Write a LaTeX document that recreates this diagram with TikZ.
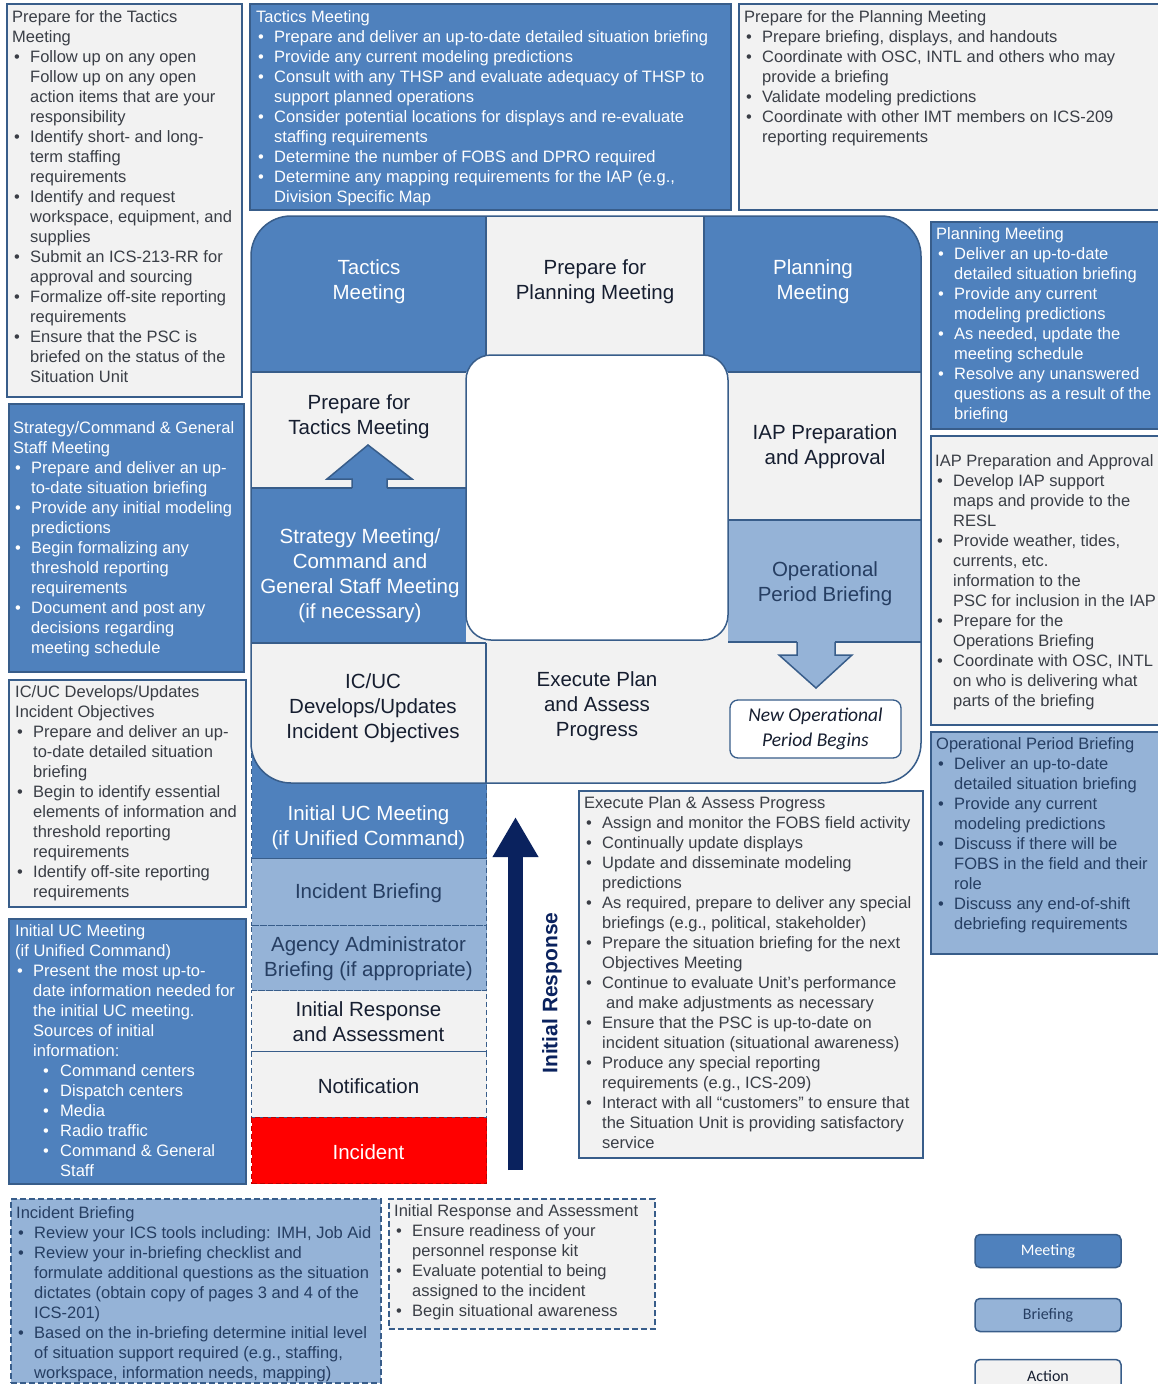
\documentclass[tikz,border=0pt]{standalone}
\usepackage{fontspec}
\setmainfont{Liberation Sans}
\newfontfamily\calibfont{Carlito}
\usetikzlibrary{arrows.meta}

\definecolor{meetblue}{RGB}{79,129,189}
\definecolor{briefblue}{RGB}{149,179,215}
\definecolor{actgray}{RGB}{242,242,242}
\definecolor{edgeblue}{RGB}{56,93,138}
\definecolor{navyarrow}{RGB}{10,34,94}
\definecolor{actink}{RGB}{58,62,70}
\definecolor{briefink}{RGB}{38,62,98}
\definecolor{cellink}{RGB}{22,30,48}
\definecolor{incred}{RGB}{255,0,0}
\definecolor{incedge}{RGB}{190,0,0}

\newcommand{\bul}{\hspace*{2pt}\makebox[16pt][l]{\textbullet}}
\newcommand{\bulind}{\hspace*{18pt}}
\newcommand{\subbul}{\hspace*{28pt}\makebox[17pt][l]{\textbullet}}
\newcommand{\subbulind}{\hspace*{45pt}}

\tikzset{
  panel/.style={draw=edgeblue,line width=1.6pt,anchor=north west,inner sep=0pt},
  dpanel/.style={panel,dash pattern=on 6pt off 3pt},
  boxtxt/.style={anchor=north west,inner sep=0pt,align=left,font=\fontsize{16.5}{20}\selectfont},
  celltxt/.style={align=center,inner sep=0pt,font=\fontsize{20.5}{25}\selectfont},
  stage/.style={draw=edgeblue,line width=1.3pt,dash pattern=on 5pt off 3pt,minimum width=235pt,
    anchor=north west,inner sep=0pt},
  cellline/.style={draw=edgeblue,line width=1.5pt},
  legbox/.style={draw=edgeblue,line width=1.5pt,rounded corners=5pt,minimum width=146pt,
    minimum height=33pt,font=\calibfont\fontsize{16}{19}\selectfont},
}

\begin{document}
\begin{tikzpicture}[x=1pt,y=-1pt]
\useasboundingbox (0,0) rectangle (1158,1384);
\clip (0,0) rectangle (1158,1384);
\fill[white] (0,0) rectangle (1158,1384);

% initial response column
\node[stage,fill=meetblue,minimum height=118pt] (ucStage) at (251,740) {};
\node[stage,fill=briefblue,minimum height=67pt] (ibStage) at (251,858) {};
\node[stage,fill=briefblue,minimum height=65pt] (aaStage) at (251,925) {};
\node[stage,fill=actgray,minimum height=61pt] (iraStage) at (251,990) {};
\node[stage,fill=actgray,minimum height=66pt] (notStage) at (251,1051) {};
\node[stage,fill=incred,draw=incedge,minimum height=66pt] (incStage) at (251,1117) {};
\node[celltxt,text=briefink] (ibTxtc) at (368.5,893) {Incident Briefing};
\node[celltxt,text=briefink] (aaTxt) at (368.5,958.5) {Agency Administrator\\Briefing (if appropriate)};
\node[celltxt,text=cellink] (iraTxtc) at (368.5,1022) {Initial Response\\and Assessment};
\node[celltxt,text=cellink] (notTxt) at (368.5,1086) {Notification};
\node[celltxt,text=white] (incTxt) at (368.5,1152) {Incident};

% planning cycle
\begin{scope}
\clip[rounded corners=40pt] (251,216) rectangle (921,783);
\fill[actgray] (251,216) rectangle (921,783);
\fill[meetblue] (251,216) rectangle (486,372);
\fill[meetblue] (704,216) rectangle (921,372);
\fill[meetblue] (251,488) rectangle (466,643);
\fill[briefblue] (728,520) rectangle (921,641);
\end{scope}
\fill[meetblue] (368,445) -- (412,479) -- (387,479) -- (387,489) -- (352,489) -- (352,479) -- (327,479) -- cycle;
\fill[briefblue] (797,640) -- (797,655) -- (779,655) -- (816,688) -- (852,655) -- (835,655) -- (835,640) -- cycle;
\draw[cellline] (352,488) -- (352,479) -- (327,479) -- (368,445) -- (412,479) -- (387,479) -- (387,488);
\draw[cellline] (797,642) -- (797,655) -- (779,655) -- (816,688) -- (852,655) -- (835,655) -- (835,642);
\draw[cellline] (486,216) -- (486,355) (704,216) -- (704,355);
\draw[cellline] (251,372) -- (466,372) (728,372) -- (921,372);
\draw[cellline] (251,488) -- (352,488) (387,488) -- (466,488);
\draw[cellline] (728,520) -- (921,520);
\draw[cellline] (251,643) -- (486,643) (728,642) -- (797,642) (835,642) -- (921,642);
\draw[cellline] (486,643) -- (486,783);
\draw[cellline,rounded corners=40pt] (251,216) rectangle (921,783);
\draw[cellline,fill=white,rounded corners=25pt] (466,355) rectangle (728,640);

\node[celltxt,text=white] (tacCell) at (369,281.5) {Tactics\\Meeting};
\node[celltxt,text=cellink] (prepPlanCell) at (595,281.5) {Prepare for\\Planning Meeting};
\node[celltxt,text=white] (planCell) at (813,281.5) {Planning\\Meeting};
\node[celltxt,text=cellink] (prepTacCell) at (359,416.5) {Prepare for\\Tactics Meeting};
\node[celltxt,text=white] (stratCell) at (360,575.5) {Strategy Meeting/\\Command and\\General Staff Meeting\\(if necessary)};
\node[celltxt,text=cellink] (iapCell) at (825,446.5) {IAP Preparation\\and Approval};
\node[celltxt,text=briefink] (opCell) at (825,583.5) {Operational\\Period Briefing};
\node[celltxt,text=cellink] (icucCell) at (373,708.5) {IC/UC\\Develops/Updates\\Incident Objectives};
\node[celltxt,text=cellink] (execCell) at (597,706.5) {Execute Plan\\and Assess\\Progress};
\node[draw=edgeblue,line width=1.3pt,fill=white,rounded corners=8pt,minimum width=171pt,minimum height=58pt,
  align=center,text=cellink,font=\calibfont\itshape\fontsize{19.5}{25}\selectfont] (newOp) at (815.5,729) {New Operational\\Period Begins};
\node[celltxt,text=white] (ucTxt) at (368.5,828) {Initial UC Meeting\\(if Unified Command)};

% initial response arrow
\coordinate (irFoot) at (515.5,1170);
\coordinate (irHead) at (515.5,817);
\draw[navyarrow,line width=15pt,-{Triangle[width=43pt,length=40pt]}] (irFoot) -- (irHead);
\node[rotate=90,text=navyarrow,font=\bfseries\fontsize{21}{25}\selectfont] (irLabel) at (552,993) {Initial Response};

% note panels
\node[panel,fill=actgray,minimum width=235pt,minimum height=393pt] (prepTacBox) at (6,3) {};
\node[boxtxt,text=actink] (prepTacTxt) at ([xshift=6pt,yshift=-7pt]prepTacBox.north west) {Prepare for the Tactics\\
Meeting\\
\bul Follow up on any open\\
\bulind Follow up on any open\\
\bulind action items that are your\\
\bulind responsibility\\
\bul Identify short- and long-\\
\bulind term staffing\\
\bulind requirements\\
\bul Identify and request\\
\bulind workspace, equipment, and\\
\bulind supplies\\
\bul Submit an ICS-213-RR for\\
\bulind approval and sourcing\\
\bul Formalize off-site reporting\\
\bulind requirements\\
\bul Ensure that the PSC is\\
\bulind briefed on the status of the\\
\bulind Situation Unit};

\node[panel,fill=meetblue,minimum width=481pt,minimum height=206pt] (tacBox) at (249,3) {};
\node[boxtxt,text=white] (tacTxt) at ([xshift=7pt,yshift=-7pt]tacBox.north west) {Tactics Meeting\\
\bul Prepare and deliver an up-to-date detailed situation briefing\\
\bul Provide any current modeling predictions\\
\bul Consult with any THSP and evaluate adequacy of THSP to\\
\bulind support planned operations\\
\bul Consider potential locations for displays and re-evaluate\\
\bulind staffing requirements\\
\bul Determine the number of FOBS and DPRO required\\
\bul Determine any mapping requirements for the IAP (e.g.,\\
\bulind Division Specific Map};

\node[panel,fill=actgray,minimum width=430pt,minimum height=206pt] (prepPlanBox) at (738,3) {};
\node[boxtxt,text=actink] (prepPlanTxt) at ([xshift=6pt,yshift=-7pt]prepPlanBox.north west) {Prepare for the Planning Meeting\\
\bul Prepare briefing, displays, and handouts\\
\bul Coordinate with OSC, INTL and others who may\\
\bulind provide a briefing\\
\bul Validate modeling predictions\\
\bul Coordinate with other IMT members on ICS-209\\
\bulind reporting requirements};

\node[panel,fill=meetblue,minimum width=240pt,minimum height=207pt] (planBox) at (930,221) {};
\node[boxtxt,text=white] (planTxt) at ([xshift=6pt,yshift=-6pt]planBox.north west) {Planning Meeting\\
\bul Deliver an up-to-date\\
\bulind detailed situation briefing\\
\bul Provide any current\\
\bulind modeling predictions\\
\bul As needed, update the\\
\bulind meeting schedule\\
\bul Resolve any unanswered\\
\bulind questions as a result of the\\
\bulind briefing};

\node[panel,fill=actgray,minimum width=240pt,minimum height=289pt] (iapBox) at (930,435) {};
\node[boxtxt,text=actink] (iapTxt) at ([xshift=5pt,yshift=-19pt]iapBox.north west) {IAP Preparation and Approval\\
\bul Develop IAP support\\
\bulind maps and provide to the\\
\bulind RESL\\
\bul Provide weather, tides,\\
\bulind currents, etc.\\
\bulind information to the\\
\bulind PSC for inclusion in the IAP\\
\bul Prepare for the\\
\bulind Operations Briefing\\
\bul Coordinate with OSC, INTL\\
\bulind on who is delivering what\\
\bulind parts of the briefing};

\node[panel,fill=briefblue,minimum width=240pt,minimum height=222pt] (opBox) at (930,731) {};
\node[boxtxt,text=briefink] (opTxt) at ([xshift=6pt,yshift=-6pt]opBox.north west) {Operational Period Briefing\\
\bul Deliver an up-to-date\\
\bulind detailed situation briefing\\
\bul Provide any current\\
\bulind modeling predictions\\
\bul Discuss if there will be\\
\bulind FOBS in the field and their\\
\bulind role\\
\bul Discuss any end-of-shift\\
\bulind debriefing requirements};

\node[panel,fill=actgray,minimum width=344pt,minimum height=367pt] (execBox) at (578,790) {};
\node[boxtxt,text=actink] (execTxt) at ([xshift=6pt,yshift=-6pt]execBox.north west) {Execute Plan \& Assess Progress\\
\bul Assign and monitor the FOBS field activity\\
\bul Continually update displays\\
\bul Update and disseminate modeling\\
\bulind predictions\\
\bul As required, prepare to deliver any special\\
\bulind briefings (e.g., political, stakeholder)\\
\bul Prepare the situation briefing for the next\\
\bulind Objectives Meeting\\
\bul Continue to evaluate Unit’s performance\\
\bulind\hspace*{4pt}and make adjustments as necessary\\
\bul Ensure that the PSC is up-to-date on\\
\bulind incident situation (situational awareness)\\
\bul Produce any special reporting\\
\bulind requirements (e.g., ICS-209)\\
\bul Interact with all “customers” to ensure that\\
\bulind the Situation Unit is providing satisfactory\\
\bulind service};

\node[panel,fill=meetblue,minimum width=235pt,minimum height=268pt] (stratBox) at (8,403) {};
\node[boxtxt,text=white] (stratTxt) at ([xshift=5pt,yshift=-18pt]stratBox.north west) {Strategy/Command \& General\\
Staff Meeting\\
\bul Prepare and deliver an up-\\
\bulind to-date situation briefing\\
\bul Provide any initial modeling\\
\bulind predictions\\
\bul Begin formalizing any\\
\bulind threshold reporting\\
\bulind requirements\\
\bul Document and post any\\
\bulind decisions regarding\\
\bulind meeting schedule};

\node[panel,fill=actgray,minimum width=237pt,minimum height=227pt] (icucBox) at (8,679) {};
\node[boxtxt,text=actink] (icucTxt) at ([xshift=7pt,yshift=-6pt]icucBox.north west) {IC/UC Develops/Updates\\
Incident Objectives\\
\bul Prepare and deliver an up-\\
\bulind to-date detailed situation\\
\bulind briefing\\
\bul Begin to identify essential\\
\bulind elements of information and\\
\bulind threshold reporting\\
\bulind requirements\\
\bul Identify off-site reporting\\
\bulind requirements};

\node[panel,fill=meetblue,minimum width=237pt,minimum height=265pt] (ucBox) at (8,918) {};
\node[boxtxt,text=white] (ucBoxTxt) at ([xshift=7pt,yshift=-6pt]ucBox.north west) {Initial UC Meeting\\
(if Unified Command)\\
\bul Present the most up-to-\\
\bulind date information needed for\\
\bulind the initial UC meeting.\\
\bulind Sources of initial\\
\bulind information:\\
\subbul Command centers\\
\subbul Dispatch centers\\
\subbul Media\\
\subbul Radio traffic\\
\subbul Command \& General\\
\subbulind Staff};

\node[dpanel,fill=briefblue,minimum width=370pt,minimum height=184pt] (ibBox) at (10,1198) {};
\node[boxtxt,text=briefink] (ibTxt) at ([xshift=6pt,yshift=-8pt]ibBox.north west) {Incident Briefing\\
\bul Review your ICS tools including: IMH, Job Aid\\
\bul Review your in-briefing checklist and\\
\bulind formulate additional questions as the situation\\
\bulind dictates (obtain copy of pages 3 and 4 of the\\
\bulind ICS-201)\\
\bul Based on the in-briefing determine initial level\\
\bulind of situation support required (e.g., staffing,\\
\bulind workspace, information needs, mapping)};

\node[dpanel,fill=actgray,minimum width=266pt,minimum height=130pt] (iraBox) at (388,1198) {};
\node[boxtxt,text=actink] (iraTxt) at ([xshift=6pt,yshift=-6pt]iraBox.north west) {Initial Response and Assessment\\
\bul Ensure readiness of your\\
\bulind personnel response kit\\
\bul Evaluate potential to being\\
\bulind assigned to the incident\\
\bul Begin situational awareness};

% legend
\node[legbox,fill=meetblue,text=white] (legMeet) at (1048,1251) {Meeting};
\node[legbox,fill=briefblue,text=briefink] (legBrief) at (1048,1315) {Briefing};
\node[legbox,fill=actgray,text=cellink] (legAct) at (1048,1376) {Action};
\end{tikzpicture}
\end{document}
